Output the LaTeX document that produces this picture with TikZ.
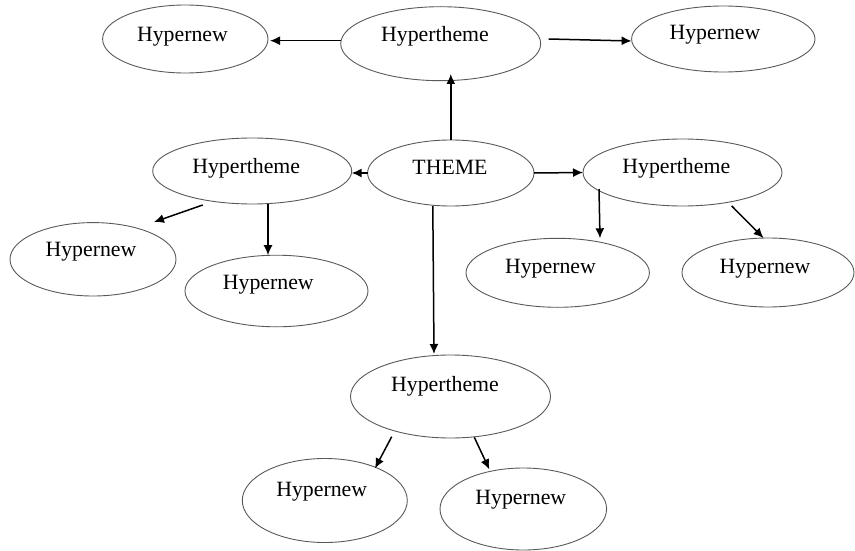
\documentclass[tikz,border=0pt]{standalone}
\usepackage{fontspec}
\setmainfont{Liberation Serif}
\usetikzlibrary{arrows.meta,calc,shapes.geometric}
\tikzset{
  ell/.style={draw=black!65, line width=0.9pt, ellipse, inner sep=0pt, outer sep=0pt},
  txt/.style={anchor=base, inner sep=0pt, font=\fontsize{21.8}{26}\selectfont},
  arr/.style={draw=black, line width=1.5pt, -{Latex[length=10pt,width=9pt]}}
}
\begin{document}
\begin{tikzpicture}[x=1pt,y=-1pt]
\useasboundingbox (0,0) rectangle (855,551);
% ellipses
\node[ell, minimum width=165.4pt, minimum height=68pt] (HNtl) at (185.3,39) {};
\node[ell, minimum width=200pt, minimum height=74pt] (HTtop) at (440.7,43.7) {};
\node[ell, minimum width=183.4pt, minimum height=66pt] (HNtr) at (723.3,39) {};
\node[ell, minimum width=199pt, minimum height=66pt] (HTl) at (252.2,171) {};
\node[ell, minimum width=166.4pt, minimum height=66pt] (THEME) at (450.8,173) {};
\node[ell, minimum width=199pt, minimum height=67pt] (HTr) at (682.5,172.5) {};
\node[ell, minimum width=166pt, minimum height=73.4pt] (HNl) at (93,259.3) {};
\node[ell, minimum width=183pt, minimum height=71.6pt] (HNml) at (276.5,291) {};
\node[ell, minimum width=183.4pt, minimum height=69pt] (HNmr) at (557.7,272.8) {};
\node[ell, minimum width=172pt, minimum height=69pt] (HNr) at (768,272.5) {};
\node[ell, minimum width=200pt, minimum height=83pt] (HTb) at (450.5,396.5) {};
\node[ell, minimum width=165pt, minimum height=84pt] (HNbl) at (324.8,500.5) {};
\node[ell, minimum width=166.6pt, minimum height=82pt] (HNbr) at (523.3,509) {};
% texts
\node[txt] (tHNtl) at (182.5,42) {Hypernew};
\node[txt] (tHTtop) at (435,42) {Hypertheme};
\node[txt] (tHNtr) at (715,40) {Hypernew};
\node[txt] (tHTl) at (246.2,173) {Hypertheme};
\node[txt] (tTHEME) at (450,174) {THEME};
\node[txt] (tHTr) at (676.3,173) {Hypertheme};
\node[txt] (tHNl) at (91,256.7) {Hypernew};
\node[txt] (tHNml) at (268.3,289) {Hypernew};
\node[txt] (tHNmr) at (550.5,273.3) {Hypernew};
\node[txt] (tHNr) at (765,273) {Hypernew};
\node[txt] (tHTb) at (445,391.7) {Hypertheme};
\node[txt] (tHNbl) at (321.7,496.7) {Hypernew};
\node[txt] (tHNbr) at (520.8,504) {Hypernew};
% arrows
\draw[arr] ($(HTtop.west)+(0,-3)$) -- ($(HNtl.east)+(2,1.7)$);
\draw[arr] ($(HTtop.east)+(8,-4.7)$) -- ($(HNtr.west)+(0,2)$);
\draw[arr] (THEME.north) -- ($(THEME.north |- HTtop.south)+(0,-6.7)$);
\draw[arr] (THEME.west) -- (THEME.west -| HTl.east);
\draw[arr] (THEME.east) -- (HTr.west);
\draw[arr] ($(THEME.south)+(-18,0)$) -- ($(HTb.north)+(-16.5,-1)$);
\draw[arr] ($(HTl.south)+(15.8,0)$) -- ($(HNml.north)+(-8.5,0)$);
\draw[arr] ($(HTl.center)+(-49.5,34)$) -- ($(HNl.center)+(61,-37.3)$);
\draw[arr] ($(HTr.center)+(-83.5,16.5)$) -- ($(HNmr.north)+(42.3,0)$);
\draw[arr] ($(HTr.south)+(49.2,0)$) -- ($(HNr.north)+(-4.5,0)$);
\draw[arr] ($(HTb.south)+(-58.8,-1.3)$) -- ($(HNbl.north)+(50.2,9.8)$);
\draw[arr] ($(HTb.south)+(23.8,-0.7)$) -- ($(HNbr.north)+(-34,1.3)$);
\end{tikzpicture}
\end{document}
